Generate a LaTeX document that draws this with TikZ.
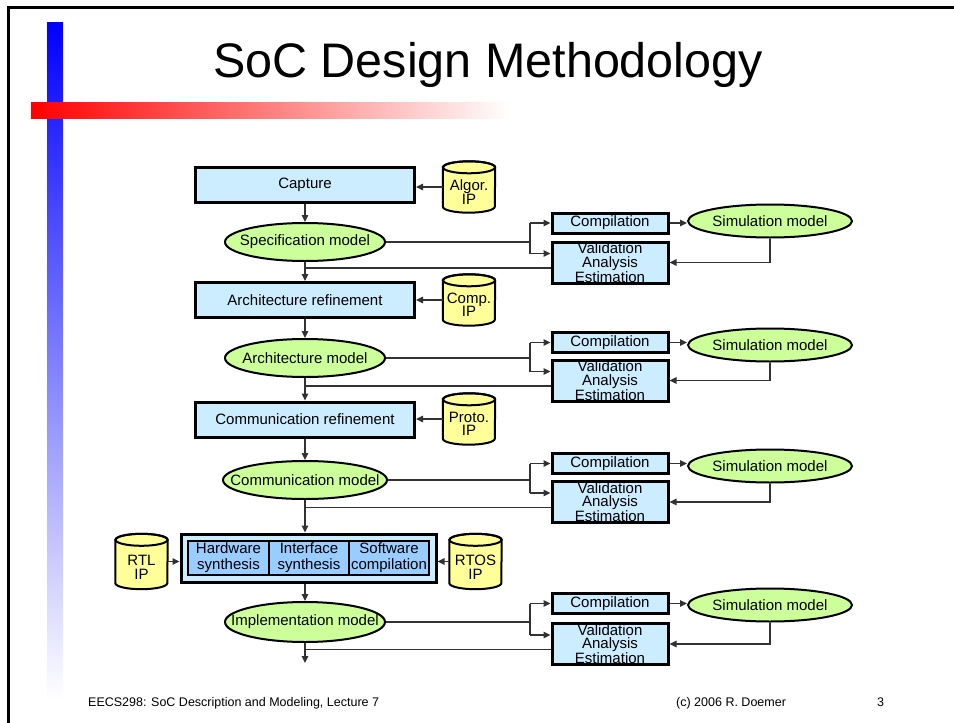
\documentclass[tikz,border=0pt]{standalone}
\usepackage{fontspec}
\setmainfont{Liberation Sans}
\usetikzlibrary{shapes.geometric,arrows.meta,calc}
\definecolor{boxblue}{RGB}{204,236,255}
\definecolor{innerblue}{RGB}{153,204,255}
\definecolor{ellgreen}{RGB}{204,255,153}
\definecolor{cylyellow}{RGB}{255,255,153}
\definecolor{lineg}{RGB}{50,50,50}
\newcommand\zclap[1]{\makebox[0pt]{#1}}
\tikzset{
  every node/.style={font=\fontsize{15}{15}\selectfont, inner sep=0pt},
  stepbox/.style={draw, line width=3pt, fill=boxblue, minimum width=219, minimum height=35},
  smallbox/.style={draw, line width=3pt, fill=boxblue, minimum width=116, align=center},
  innerbox/.style={draw, line width=1.2pt, fill=innerblue, minimum height=34, align=center,
     font=\fontsize{15}{16}\selectfont},
  model/.style={ellipse, draw, line width=2pt, fill=ellgreen, minimum width=160, minimum height=38},
  simell/.style={ellipse, draw, line width=2pt, fill=ellgreen, minimum width=164, minimum height=33},
  cylnode/.style={minimum width=52, minimum height=51, align=center, font=\fontsize{15}{13.5}\selectfont},
  conn/.style={draw=lineg, line width=1.2pt},
  arr/.style={conn, -{Triangle[length=7pt,width=6.5pt]}},
}
\newcommand\cyl[1]{%
  \draw[line width=2pt, fill=cylyellow]
    ([yshift=-6pt]#1.north west) -- ([yshift=6pt]#1.south west)
    arc[start angle=180, end angle=360, x radius=26pt, y radius=6pt]
    -- ([yshift=-6pt]#1.north east)
    arc[start angle=0, end angle=180, x radius=26pt, y radius=6pt] -- cycle;
  \draw[line width=2pt] ([yshift=-6pt]#1.north) ellipse[x radius=26pt, y radius=6pt];
}
% block: #1 suffix, #2 model y, #3 comp y, #4 valid y, #5 sim y
\newcommand\valblock[5]{%
  \node[smallbox, minimum height=20] (c#1) at (610,#3) {Compilation};
  \node[smallbox, minimum height=41, font=\fontsize{15}{13.5}\selectfont] (v#1) at (610,#4) {Validation\\Analysis\\Estimation};
  \node[simell] (s#1) at (770,#5) {Simulation model};
  \coordinate (b#1) at (530,#2);
  \draw[conn] (m#1.east) -- (b#1);
  \draw[conn] (b#1) -- (b#1 |- c#1.west);
  \draw[conn] (b#1) -- ($(b#1 |- v#1.west)+(0,9pt)$);
  \draw[arr] (b#1 |- c#1.west) -- (c#1.west);
  \draw[arr] ($(b#1 |- v#1.west)+(0,9pt)$) -- ([yshift=9pt]v#1.west);
  \draw[arr] (c#1.east) -- (c#1.east -| s#1.west);
  \draw[arr] (s#1.south) |- (v#1.east);
  \coordinate (r#1) at ([yshift=-5.5pt]v#1.west);
  \draw[conn] (r#1) -- (r#1 -| m#1.south);
}
\begin{document}
\begin{tikzpicture}[x=1pt,y=-1pt]
\useasboundingbox (0,0) rectangle (954,723);
\fill[white] (0,0) rectangle (954,723);
% slide decoration
\shade[top color=blue, bottom color=white] (47,22) rectangle (63,700);
\shade[left color=red, right color=white] (31,102) rectangle (510,118);
\draw[line width=3pt] (8,723) -- (8,7) -- (954,7);
\node[font=\fontsize{48.5}{48.5}\selectfont, anchor=base] (title) at (488,77) {SoC Design Methodology};
% footer
\node[font=\fontsize{12.5}{12.5}\selectfont, anchor=base west] (f1) at (88,706) {EECS298: SoC Description and Modeling, Lecture 7};
\node[font=\fontsize{12.5}{12.5}\selectfont, anchor=base west] (f2) at (676,706) {(c) 2006 R. Doemer};
\node[font=\fontsize{12.5}{12.5}\selectfont, anchor=base west] (f3) at (877,706) {3};

% block 1
\node[stepbox] (p1) at (305,184.5) {Capture};
\node[cylnode] (i1) at (469,187) {};
\cyl{i1}
\node[cylnode] at ($(i1)+(0,5)$) {Algor.\\IP};
\draw[arr] (i1.west) -- (i1.west -| p1.east);
\node[model] (m1) at (305,242) {\zclap{Specification model}};
\draw[arr] (p1.south) -- (m1.north);
\valblock{1}{242}{223}{262.5}{221}

% block 2
\node[stepbox] (p2) at (305,300) {Architecture refinement};
\node[cylnode] (i2) at (469,300) {};
\cyl{i2}
\node[cylnode] at ($(i2)+(0,5)$) {Comp.\\IP};
\draw[arr] (i2.west) -- (i2.west -| p2.east);
\draw[arr] (m1.south) -- (p2.north);
\node[model] (m2) at (305,358) {\zclap{Architecture model}};
\draw[arr] (p2.south) -- (m2.north);
\valblock{2}{358}{342.5}{380.5}{345}

% block 3
\node[stepbox] (p3) at (305,419.5) {Communication refinement};
\node[cylnode] (i3) at (469,419) {};
\cyl{i3}
\node[cylnode] at ($(i3)+(0,5)$) {Proto.\\IP};
\draw[arr] (i3.west) -- (i3.west -| p3.east);
\draw[arr] (m2.south) -- (p3.north);
\node[model, minimum width=164] (m3) at (305,480) {\zclap{Communication model}};
\draw[arr] (p3.south) -- (m3.north);
\valblock{3}{480}{463.5}{502}{466}

% block 4
\node[draw, line width=3pt, fill=boxblue, minimum width=255, minimum height=48] (hw) at (308.5,558) {};
\node[innerbox, minimum width=81] (h1) at (228.5,558) {Hardware\\synthesis};
\node[innerbox, minimum width=80] (h2) at (309,558) {Interface\\synthesis};
\node[innerbox, minimum width=80] (h3) at (389,558) {Software\\compilation};
\draw[arr] (m3.south) -- (m3.south |- hw.north);
\node[cylnode, minimum height=55] (i4) at (141.5,561.5) {};
\cyl{i4}
\node[cylnode] at ($(i4)+(0,6)$) {RTL\\IP};
\node[cylnode, minimum height=55] (i5) at (475.5,561.5) {};
\cyl{i5}
\node[cylnode] at ($(i5)+(0,6)$) {RTOS\\IP};
\draw[arr] (i4.east) -- (i4.east -| hw.west);
\draw[arr] (i5.west) -- (i5.west -| hw.east);
\node[model, minimum height=40] (m4) at (305,622) {\zclap{Implementation model}};
\draw[arr] (m4.north |- hw.south) -- (m4.north);
\coordinate (end) at (305,663);
\draw[arr] (m4.south) -- (end);
\valblock{4}{622}{603.5}{644}{605}
\end{tikzpicture}
\end{document}
